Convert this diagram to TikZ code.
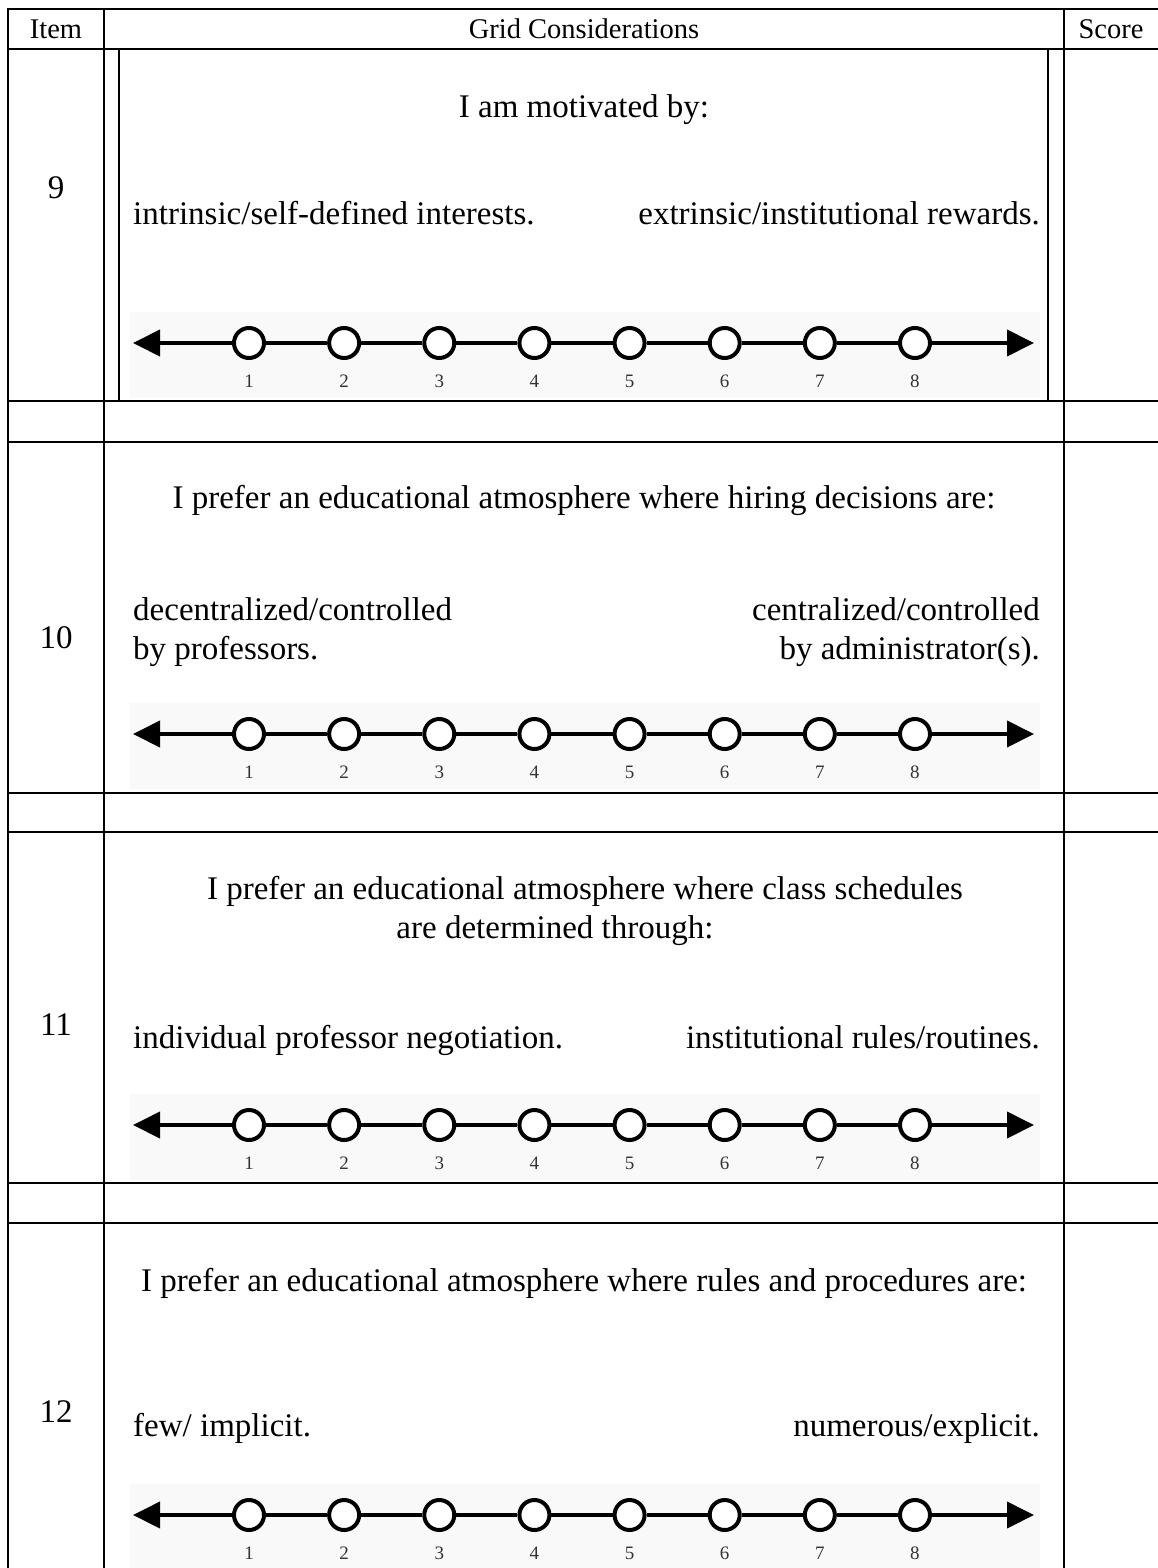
\documentclass[tikz,border=0pt]{standalone}
\usepackage{fontspec}
\setmainfont{Liberation Serif}
\usetikzlibrary{arrows.meta}

% One rating scale: eight open dots on a double-headed line, numbered 1..8
\newcommand\ratingscale[2]{%
  \fill[scalebg] (130,#2-31) rectangle (1040,#2+55);
  \foreach \k in {1,...,8} {
    \node[dot] (#1c\k) at ({249+95.14*(\k-1)},#2) {};
    \node[tick] (#1t\k) at ({249+95.14*(\k-1)},#2+38) {\k};
  }
  \coordinate (#1L) at (133,#2);
  \coordinate (#1R) at (1034,#2);
  \draw[axis,-{Triangle[length=27pt,width=26pt]}] (#1c1) -- (#1L);
  \draw[axis,-{Triangle[length=27pt,width=26pt]}] (#1c8) -- (#1R);
  \foreach \a/\b in {1/2,2/3,3/4,4/5,5/6,6/7,7/8}
    \draw[axis] (#1c\a) -- (#1c\b);
}

\begin{document}
\begin{tikzpicture}[x=1pt,y=-1pt,
  rule/.style={line width=2pt},
  head/.style={font=\fontsize{28.5}{34}\selectfont, inner sep=0pt},
  cell/.style={font=\fontsize{33}{39}\selectfont, inner sep=0pt},
  dot/.style={circle, draw, line width=4pt, minimum size=30pt, inner sep=0pt, fill=white},
  axis/.style={line width=4pt},
  tick/.style={font=\fontsize{19}{19}\selectfont, text=black!80, inner sep=0pt},
  scalebg/.style={fill={rgb,255:red,249;green,249;blue,249}}
]
\useasboundingbox (0,0) rectangle (1158,1568);
\fill[white] (0,0) rectangle (1158,1568);

% rating scales
\ratingscale{s9}{343}
\ratingscale{s10}{734}
\ratingscale{s11}{1125}
\ratingscale{s12}{1515}

% table rules
\foreach \y in {9,49,401,442,793,832,1183,1223}
  \draw[rule] (8,\y) -- (1158,\y);
\foreach \x in {8,104,1064}
  \draw[rule] (\x,8) -- (\x,1568);
% framed box inside item 9
\draw[rule] (119,50) -- (119,401);
\draw[rule] (1048,50) -- (1048,401);

% header
\node[head] (hItem) at (56,29) {Item};
\node[head] (hGrid) at (584,29) {Grid Considerations};
\node[head] (hScore) at (1111,29) {Score};

% item 9
\node[cell] (n9) at (56,188) {9};
\node[cell] (q9) at (584,110) {I am motivated by:};
\node[cell, anchor=base west] (l9) at (133,224) {intrinsic/self-defined interests.};
\node[cell, anchor=base east] (r9) at (1040,224) {extrinsic/institutional rewards.};

% item 10
\node[cell] (n10) at (56,638) {10};
\node[cell] (q10) at (584,500) {I prefer an educational atmosphere where hiring decisions are:};
\node[cell, anchor=west, align=left] (l10) at (133,632) {decentralized/controlled\\by professors.};
\node[cell, anchor=east, align=right] (r10) at (1040,632) {centralized/controlled\\by administrator(s).};

% item 11
\node[cell] (n11) at (56,1025) {11};
\node[cell, anchor=base] (q11a) at (585,899) {I prefer an educational atmosphere where class schedules};
\node[cell, anchor=base] (q11b) at (555,938) {are determined through:};
\node[cell, anchor=base west] (l11) at (133,1048) {individual professor negotiation.};
\node[cell, anchor=base east] (r11) at (1040,1048) {institutional rules/routines.};

% item 12
\node[cell] (n12) at (56,1412) {12};
\node[cell] (q12) at (584,1283) {I prefer an educational atmosphere where rules and procedures are:};
\node[cell, anchor=base west] (l12) at (133,1436) {few/ implicit.};
\node[cell, anchor=base east] (r12) at (1040,1436) {numerous/explicit.};
\end{tikzpicture}
\end{document}
